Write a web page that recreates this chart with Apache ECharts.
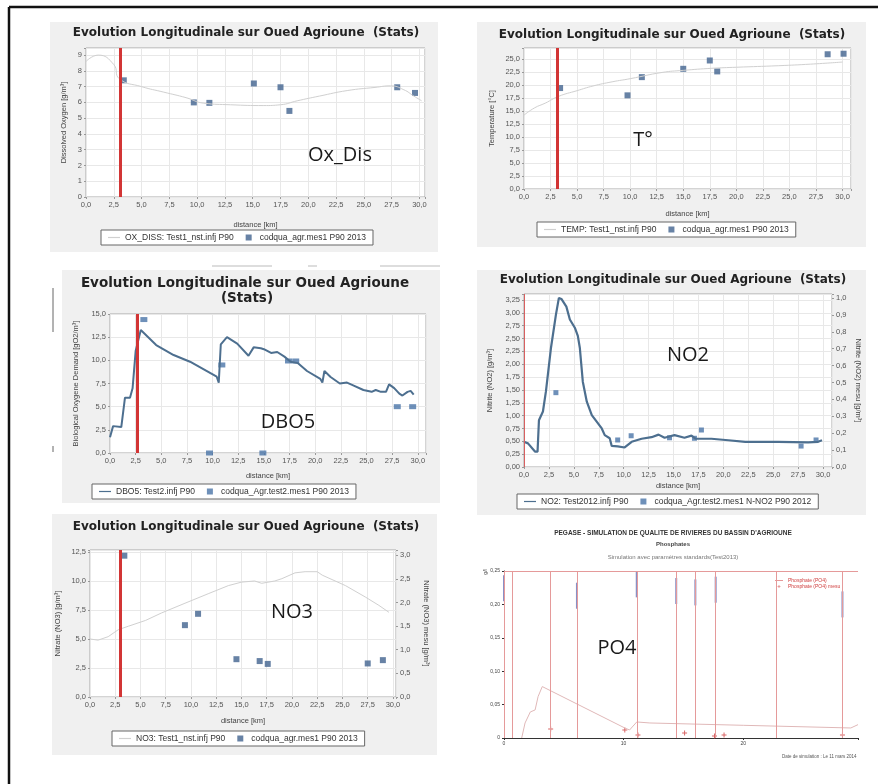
<!DOCTYPE html>
<html><head><meta charset="utf-8">
<script src="https://cdn.jsdelivr.net/npm/echarts@6/dist/echarts.min.js"></script>
<style>html,body{margin:0;padding:0;background:#fff}#c{width:878px;height:784px}</style>
</head><body><div id="c"></div>
<script>
// ---------- DATA ----------
const redLineX = [3.1, 3.1, 2.7, 0.0, 3.0];

const oxLineX = [0, 1.1, 2.5, 3.0, 5, 7.0, 9, 10.6, 13, 16, 17.5, 19, 21, 23.5, 26, 27.4, 28.6, 29.5, 30.2];
const oxLine  = [8.6, 9.0, 8.4, 7.5, 7.0, 6.65, 6.3, 5.95, 5.85, 5.8, 5.85, 6.1, 6.4, 6.75, 6.95, 7.05, 6.8, 6.4, 6.1];
const oxObsX  = [3.4, 9.7, 11.1, 15.1, 17.5, 18.3, 28.0, 29.6];
const oxObs   = [7.4, 6.0, 5.97, 7.2, 6.96, 5.46, 6.96, 6.6];

const tLineX = [0, 1, 2, 3.25, 5, 6.5, 8.3, 10, 13, 15, 17.7, 20, 24, 27, 30];
const tLine  = [14.2, 15.6, 16.5, 17.8, 18.9, 19.8, 20.6, 21.2, 22.4, 22.8, 23.2, 23.4, 23.7, 24.0, 24.4];
const tObsX  = [3.4, 9.75, 11.1, 15.0, 17.5, 18.2, 28.6, 30.1];
const tObs   = [19.4, 18.0, 21.5, 23.1, 24.7, 22.6, 25.9, 26.0];

const dboX = [0, 0.3, 1.1, 1.46, 1.95, 2.2, 2.5, 3.0, 4.5, 6.2, 7.8, 10.4, 10.6, 10.8, 11.4, 12.4, 13.5, 14.0, 14.7, 15.0, 15.7, 16.3, 17.0, 17.6, 18.3, 19.2, 20.5, 20.7, 20.9, 21.5, 22.4, 23.1, 23.7, 24.7, 25.5, 25.9, 26.4, 26.9, 27.2, 27.7, 28.2, 28.5, 29.0, 29.3, 29.6];
const dboY = [1.7, 2.9, 2.8, 5.97, 5.97, 6.98, 11.0, 13.27, 11.65, 10.57, 9.85, 8.23, 7.6, 11.73, 12.5, 11.8, 10.5, 11.4, 11.3, 11.2, 10.8, 10.9, 10.4, 9.85, 9.7, 8.85, 8.0, 7.6, 8.85, 8.2, 7.5, 7.6, 7.3, 6.8, 6.6, 6.8, 6.6, 6.6, 7.4, 7.0, 6.4, 6.2, 6.6, 6.7, 6.3];
const dboObsX = [3.3, 9.7, 10.9, 14.9, 17.4, 18.1, 28.0, 29.5];
const dboObs  = [14.4, 0, 9.5, 0, 9.93, 9.93, 5.0, 5.0];

const no2X = [0, 0.4, 1.1, 1.36, 1.5, 1.9, 2.2, 2.7, 3.2, 3.5, 3.75, 4.25, 4.6, 5.1, 5.4, 5.6, 5.9, 6.3, 6.8, 7.8, 8.1, 8.6, 8.8, 9.4, 10.1, 10.3, 10.8, 11.8, 12.8, 13.5, 14.1, 15.1, 16.1, 16.8, 17.2, 18.8, 20.5, 22.2, 25.5, 28.5, 29.5, 29.9];
const no2Y = [0.49, 0.46, 0.30, 0.30, 0.91, 1.08, 1.47, 2.31, 2.96, 3.29, 3.27, 3.12, 2.87, 2.71, 2.55, 2.32, 1.66, 1.27, 1.01, 0.75, 0.62, 0.56, 0.41, 0.40, 0.38, 0.41, 0.49, 0.55, 0.58, 0.63, 0.57, 0.62, 0.57, 0.61, 0.55, 0.55, 0.52, 0.49, 0.49, 0.48, 0.49, 0.52];
const no2ObsX = [3.2, 9.4, 10.75, 14.6, 17.1, 17.8, 27.8, 29.3];
const no2Obs  = [0.44, 0.16, 0.185, 0.173, 0.17, 0.219, 0.124, 0.16];

const no3X = [0, 0.8, 1.8, 2.8, 3.8, 5.5, 7.1, 9.4, 11.7, 13.7, 15.0, 16.3, 17.0, 18.3, 19.0, 20.3, 21.3, 22.5, 23.0, 25.3, 27.3, 28.6, 29.6];
const no3Y = [5.0, 4.9, 5.2, 5.8, 6.1, 6.6, 7.25, 8.08, 8.9, 9.6, 9.9, 10.0, 9.8, 10.0, 10.2, 10.7, 10.8, 10.8, 10.5, 9.6, 8.6, 7.9, 7.3];
const no3ObsX = [3.4, 9.4, 10.7, 14.5, 16.8, 17.6, 27.5, 29.0];
const no3Obs  = [2.99, 1.52, 1.76, 0.80, 0.76, 0.70, 0.71, 0.78];

const po4X = [1.48, 1.76, 2.2, 2.6, 2.85, 3.2, 10.1, 10.5, 11.1, 12.2, 20.0, 29.0, 29.6];
const po4Y = [0, 0.0225, 0.039, 0.042, 0.062, 0.077, 0.015, 0.012, 0.024, 0.0225, 0.019, 0.015, 0.02];
const po4Stations = [0, 0.67, 3.9, 6.1, 11.1, 14.4, 16.0, 17.7, 22.8, 28.3];
const po4BlueX = [0, 6.1, 11.1, 14.4, 16.0, 17.7, 28.3];
const po4BlueY = [0.224, 0.213, 0.23, 0.22, 0.218, 0.222, 0.2];
const po4ObsX = [3.9, 10.1, 11.2, 15.1, 17.6, 18.4, 28.3];
const po4Obs  = [0.0135, 0.012, 0.0045, 0.0075, 0.003, 0.0045, 0.0045];

// ---------- HELPERS ----------
const zip = (xs, ys) => xs.map((x, i) => [x, ys[i]]);
function fmt(dec, step) {
  return function (v) {
    const k = v / step;
    if (Math.abs(k - Math.round(k)) > 1e-6) return '';
    return v.toFixed(dec).replace('.', ',');
  };
}
const LBL = {fontSize: 7.5, color: '#555', margin: 4, fontFamily: 'Liberation Sans'};
const NAME = {fontSize: 7.5, color: '#444', fontFamily: 'Liberation Sans'};
const SPL = {show: true, lineStyle: {color: '#e8e8e8', width: 1}};
function xAx(gi, max, gap) {
  return {type: 'value', gridIndex: gi, min: 0, max: max, interval: 2.5,
    name: 'distance [km]', nameLocation: 'middle', nameGap: gap, nameTextStyle: NAME,
    axisLine: {show: false}, axisTick: {show: true, length: 2, lineStyle: {color: '#999'}},
    axisLabel: Object.assign({formatter: fmt(1, 2.5), showMaxLabel: true}, LBL), splitLine: SPL};
}
function yAx(gi, max, step, dec, name, gap, right) {
  return {type: 'value', gridIndex: gi, min: 0, max: max, interval: step, position: right ? 'right' : 'left',
    name: name, nameLocation: 'middle', nameGap: gap, nameRotate: right ? -90 : 90, nameTextStyle: NAME,
    axisLine: {show: false}, axisTick: {show: true, length: 2, lineStyle: {color: '#999'}},
    axisLabel: Object.assign({formatter: fmt(dec, step)}, LBL), splitLine: right ? {show: false} : SPL};
}
const gridStyle = {show: true, backgroundColor: '#fff', borderColor: '#a8a8a8', borderWidth: 1};
const RED = {silent: true, symbol: 'none', label: {show: false}, lineStyle: {color: '#d23535', width: 3, type: 'solid'}};
const OBS_COLOR = '#41638f';
const SQ = 'path://M0,0H10V10H0Z';
const LN = 'path://M0,9H20V11H0Z';
function legend(left, top, names) {
  return {left: left, top: top, orient: 'horizontal',
    data: [{name: names[0], icon: LN}, {name: names[1], icon: SQ}],
    borderColor: '#666', borderWidth: 1,
    backgroundColor: '#fff', padding: [3, 7], itemGap: 12, itemWidth: 12, itemHeight: 6,
    textStyle: {fontSize: 8.5, color: '#333', fontFamily: 'Liberation Sans'}, selectedMode: false};
}

const option = {
  animation: false,
  backgroundColor: '#fff',
  grid: [
    Object.assign({left: 86, top: 48, width: 339, height: 149}, gridStyle),
    Object.assign({left: 524, top: 48, width: 327, height: 141}, gridStyle),
    Object.assign({left: 110, top: 314, width: 316, height: 139}, gridStyle),
    Object.assign({left: 524, top: 294, width: 308, height: 173}, gridStyle),
    Object.assign({left: 90, top: 550, width: 306, height: 147}, gridStyle),
    {left: 504, top: 571, width: 354, height: 167, show: false}
  ],
  xAxis: [
    xAx(0, 30.5, 24), xAx(1, 30.8, 21), xAx(2, 30.8, 19), xAx(3, 30.9, 15), xAx(4, 30.3, 20),
    {type: 'value', gridIndex: 5, min: 0, max: 29.6, interval: 10,
      axisLine: {show: true, lineStyle: {color: '#333', width: 1}}, axisTick: {show: true, length: 2, lineStyle: {color: '#333'}},
      axisLabel: {fontSize: 5, color: '#444', margin: 3, formatter: fmt(0, 10)}, splitLine: {show: false}}
  ],
  yAxis: [
    yAx(0, 9.45, 1, 0, 'Dissolved Oxygen [g/m³]', 18),
    yAx(1, 27.1, 2.5, 1, 'Temperature [°C]', 28),
    yAx(2, 15, 2.5, 1, 'Biological Oxygene Demand [gO2/m³]', 30),
    yAx(3, 3.366, 0.25, 2, 'Nitrite (NO2) [g/m³]', 30),
    yAx(3, 1.024, 0.1, 1, 'Nitrite (NO2) mesu [g/m³]', 22, true),
    yAx(4, 12.67, 2.5, 1, 'Nitrate (NO3) [g/m³]', 28),
    yAx(4, 3.11, 0.5, 1, 'Nitrate (NO3) mesu [g/m³]', 26, true),
    {type: 'value', gridIndex: 5, min: 0, max: 0.25, interval: 0.05,
      axisLine: {show: true, lineStyle: {color: '#333', width: 1}}, axisTick: {show: true, length: 2, lineStyle: {color: '#333'}},
      axisLabel: {fontSize: 5, color: '#444', margin: 4, formatter: function (v) { return v === 0 ? '0' : v.toFixed(2).replace('.', ','); }},
      splitLine: {show: false}}
  ],
  legend: [
    legend(101, 230, ['OX_DISS: Test1_nst.infj P90', 'codqua_agr.mes1 P90 2013']),
    legend(537, 222, ['TEMP: Test1_nst.infj P90', 'codqua_agr.mes1 P90 2013']),
    legend(92, 484, ['DBO5: Test2.infj P90', 'codqua_Agr.test2.mes1 P90 2013']),
    legend(517, 494, ['NO2: Test2012.infj P90', 'codqua_Agr.test2.mes1 N-NO2 P90 2012']),
    legend(112, 731, ['NO3: Test1_nst.infj P90', 'codqua_agr.mes1 P90 2013']),
    {left: 775, top: 578, orient: 'vertical', itemGap: 1, itemWidth: 8, itemHeight: 3, padding: 0,
      data: [{name: 'Phosphate (PO4)', icon: LN}, {name: 'Phosphate (PO4) mesu', icon: 'path://M4,0H6V4H10V6H6V10H4V6H0V4H4Z'}],
      textStyle: {fontSize: 5, color: '#d04040'}, selectedMode: false}
  ],
  series: [
    // Panel 1
    {type: 'line', name: 'OX_DISS: Test1_nst.infj P90', xAxisIndex: 0, yAxisIndex: 0, data: zip(oxLineX, oxLine),
      smooth: true, symbol: 'none', lineStyle: {color: '#d0d0d0', width: 1}, itemStyle: {color: '#d0d0d0'},
      markLine: Object.assign({data: [{xAxis: redLineX[0]}]}, RED)},
    {type: 'scatter', name: 'codqua_agr.mes1 P90 2013', xAxisIndex: 0, yAxisIndex: 0, data: zip(oxObsX, oxObs),
      symbol: 'rect', symbolSize: 6, itemStyle: {color: OBS_COLOR}},
    // Panel 2
    {type: 'line', name: 'TEMP: Test1_nst.infj P90', xAxisIndex: 1, yAxisIndex: 1, data: zip(tLineX, tLine),
      smooth: true, symbol: 'none', lineStyle: {color: '#d0d0d0', width: 1}, itemStyle: {color: '#d0d0d0'},
      markLine: Object.assign({data: [{xAxis: redLineX[1]}]}, RED)},
    {type: 'scatter', name: 'codqua_agr.mes1 P90 2013', xAxisIndex: 1, yAxisIndex: 1, data: zip(tObsX, tObs),
      symbol: 'rect', symbolSize: 6, itemStyle: {color: OBS_COLOR}},
    // Panel 3
    {type: 'line', name: 'DBO5: Test2.infj P90', xAxisIndex: 2, yAxisIndex: 2, data: zip(dboX, dboY),
      symbol: 'none', lineStyle: {color: '#4d6f8f', width: 2}, itemStyle: {color: '#4d6f8f'},
      markLine: Object.assign({data: [{xAxis: redLineX[2]}]}, RED)},
    {type: 'scatter', name: 'codqua_Agr.test2.mes1 P90 2013', xAxisIndex: 2, yAxisIndex: 2, data: zip(dboObsX, dboObs),
      symbol: 'rect', symbolSize: [7, 5], itemStyle: {color: '#4a74a8'}},
    // Panel 4
    {type: 'line', name: 'NO2: Test2012.infj P90', xAxisIndex: 3, yAxisIndex: 3, data: zip(no2X, no2Y),
      symbol: 'none', lineStyle: {color: '#4d6f8f', width: 2.2}, itemStyle: {color: '#4d6f8f'},
      markLine: {silent: true, symbol: 'none', label: {show: false}, lineStyle: {color: '#d86060', width: 1, type: 'solid'}, data: [{xAxis: redLineX[3]}]}},
    {type: 'scatter', name: 'codqua_Agr.test2.mes1 N-NO2 P90 2012', xAxisIndex: 3, yAxisIndex: 4, data: zip(no2ObsX, no2Obs),
      symbol: 'rect', symbolSize: 5, itemStyle: {color: '#4a74a8'}},
    // Panel 5
    {type: 'line', name: 'NO3: Test1_nst.infj P90', xAxisIndex: 4, yAxisIndex: 5, data: zip(no3X, no3Y),
      symbol: 'none', lineStyle: {color: '#d0d0d0', width: 1}, itemStyle: {color: '#d0d0d0'},
      markLine: Object.assign({data: [{xAxis: redLineX[4]}]}, RED)},
    {type: 'scatter', name: 'codqua_agr.mes1 P90 2013', xAxisIndex: 4, yAxisIndex: 6, data: zip(no3ObsX, no3Obs),
      symbol: 'rect', symbolSize: 6, itemStyle: {color: OBS_COLOR}},
    // Panel 6 (PEGASE)
    {type: 'line', name: 'Phosphate (PO4)', xAxisIndex: 5, yAxisIndex: 7, data: zip(po4X, po4Y),
      symbol: 'none', lineStyle: {color: '#e0b8b8', width: 1}, itemStyle: {color: '#e08080'},
      markLine: {silent: true, symbol: 'none', label: {show: false}, lineStyle: {color: '#e59a9a', width: 1, type: 'solid'},
        data: po4Stations.map(v => ({xAxis: v})).concat([{yAxis: 0.25}])}},
    {type: 'scatter', name: 'Phosphate (PO4) mesu', xAxisIndex: 5, yAxisIndex: 7, data: zip(po4ObsX, po4Obs),
      symbol: 'path://M4,0H6V4H10V6H6V10H4V6H0V4H4Z', symbolSize: 5, itemStyle: {color: '#d04040'}},
    {type: 'scatter', name: 'po4-labels', xAxisIndex: 5, yAxisIndex: 7, data: zip(po4BlueX, po4BlueY),
      symbol: 'rect', symbolSize: [2, 26], itemStyle: {color: '#6b74b8', opacity: 0.8}, silent: true}
  ],
  graphic: [
    // frame
    {type: 'line', shape: {x1: 9, y1: 7, x2: 878, y2: 7}, style: {stroke: '#111', lineWidth: 2.5}, z: 50},
    {type: 'line', shape: {x1: 9, y1: 7, x2: 9, y2: 784}, style: {stroke: '#111', lineWidth: 2.5}, z: 50},
    // panel backgrounds
    {type: 'rect', shape: {x: 50, y: 22, width: 388, height: 230}, style: {fill: '#f0f0f0'}, z: -100},
    {type: 'rect', shape: {x: 477, y: 22, width: 389, height: 225}, style: {fill: '#f0f0f0'}, z: -100},
    {type: 'rect', shape: {x: 62, y: 270, width: 378, height: 233}, style: {fill: '#f0f0f0'}, z: -100},
    {type: 'rect', shape: {x: 477, y: 270, width: 389, height: 245}, style: {fill: '#f0f0f0'}, z: -100},
    {type: 'rect', shape: {x: 52, y: 514, width: 385, height: 241}, style: {fill: '#f0f0f0'}, z: -100},
    // artefacts around panel 3
    {type: 'line', shape: {x1: 53, y1: 288, x2: 53, y2: 332}, style: {stroke: '#666', lineWidth: 1}},
    {type: 'line', shape: {x1: 53, y1: 446, x2: 53, y2: 452}, style: {stroke: '#666', lineWidth: 1}},
    {type: 'line', shape: {x1: 212, y1: 266, x2: 272, y2: 266}, style: {stroke: '#bbb', lineWidth: 1}},
    {type: 'line', shape: {x1: 308, y1: 266, x2: 317, y2: 266}, style: {stroke: '#bbb', lineWidth: 1}},
    {type: 'line', shape: {x1: 380, y1: 266, x2: 440, y2: 266}, style: {stroke: '#bbb', lineWidth: 1}},
    // titles
    {type: 'text', x: 246, y: 33, style: {text: 'Evolution Longitudinale sur Oued Agrioune  (Stats)', font: 'bold 12px "DejaVu Sans"', fill: '#222', textAlign: 'center', textVerticalAlign: 'middle'}},
    {type: 'text', x: 672, y: 35, style: {text: 'Evolution Longitudinale sur Oued Agrioune  (Stats)', font: 'bold 12px "DejaVu Sans"', fill: '#222', textAlign: 'center', textVerticalAlign: 'middle'}},
    {type: 'text', x: 245, y: 283, style: {text: 'Evolution Longitudinale sur Oued Agrioune', font: 'bold 13.5px "DejaVu Sans"', fill: '#222', textAlign: 'center', textVerticalAlign: 'middle'}},
    {type: 'text', x: 247, y: 298, style: {text: '(Stats)', font: 'bold 13.5px "DejaVu Sans"', fill: '#222', textAlign: 'center', textVerticalAlign: 'middle'}},
    {type: 'text', x: 673, y: 280, style: {text: 'Evolution Longitudinale sur Oued Agrioune  (Stats)', font: 'bold 12px "DejaVu Sans"', fill: '#222', textAlign: 'center', textVerticalAlign: 'middle'}},
    {type: 'text', x: 246, y: 527, style: {text: 'Evolution Longitudinale sur Oued Agrioune  (Stats)', font: 'bold 12px "DejaVu Sans"', fill: '#222', textAlign: 'center', textVerticalAlign: 'middle'}},
    // PEGASE titles
    {type: 'text', x: 673, y: 533, style: {text: "PEGASE - SIMULATION DE QUALITE DE RIVIERES DU BASSIN D'AGRIOUNE", font: 'bold 6.5px "Liberation Sans"', fill: '#333', textAlign: 'center', textVerticalAlign: 'middle'}},
    {type: 'text', x: 673, y: 544, style: {text: 'Phosphates', font: 'bold 6px "Liberation Sans"', fill: '#444', textAlign: 'center', textVerticalAlign: 'middle'}},
    {type: 'text', x: 673, y: 557, style: {text: 'Simulation avec paramètres standards(Test2013)', font: '6px "Liberation Sans"', fill: '#777', textAlign: 'center', textVerticalAlign: 'middle'}},
    {type: 'text', x: 486, y: 572, rotation: Math.PI / 2, style: {text: 'g/l', font: '5px "Liberation Sans"', fill: '#444', textAlign: 'center', textVerticalAlign: 'middle'}},
    {type: 'text', x: 782, y: 757, style: {text: 'Date de simulation : Le 11 mars 2014', font: '4.5px "Liberation Sans"', fill: '#555', textAlign: 'left', textVerticalAlign: 'middle'}},
    // annotations
    {type: 'text', x: 340, y: 155, z: 100, style: {text: 'Ox_Dis', font: '20px "Open Sans"', fill: '#1a1a1a', textAlign: 'center', textVerticalAlign: 'middle'}},
    {type: 'text', x: 643, y: 140, z: 100, style: {text: 'T°', font: '20px "Open Sans"', fill: '#1a1a1a', textAlign: 'center', textVerticalAlign: 'middle'}},
    {type: 'text', x: 288, y: 422, z: 100, style: {text: 'DBO5', font: '20px "Open Sans"', fill: '#1a1a1a', textAlign: 'center', textVerticalAlign: 'middle'}},
    {type: 'text', x: 688, y: 355, z: 100, style: {text: 'NO2', font: '20px "Open Sans"', fill: '#1a1a1a', textAlign: 'center', textVerticalAlign: 'middle'}},
    {type: 'text', x: 292, y: 612, z: 100, style: {text: 'NO3', font: '20px "Open Sans"', fill: '#1a1a1a', textAlign: 'center', textVerticalAlign: 'middle'}},
    {type: 'text', x: 617, y: 648, z: 100, style: {text: 'PO4', font: '20px "Open Sans"', fill: '#1a1a1a', textAlign: 'center', textVerticalAlign: 'middle'}}
  ]
};
const chart = echarts.init(document.getElementById('c'), null, {renderer: 'canvas'});
chart.setOption(option);
</script></body></html>
